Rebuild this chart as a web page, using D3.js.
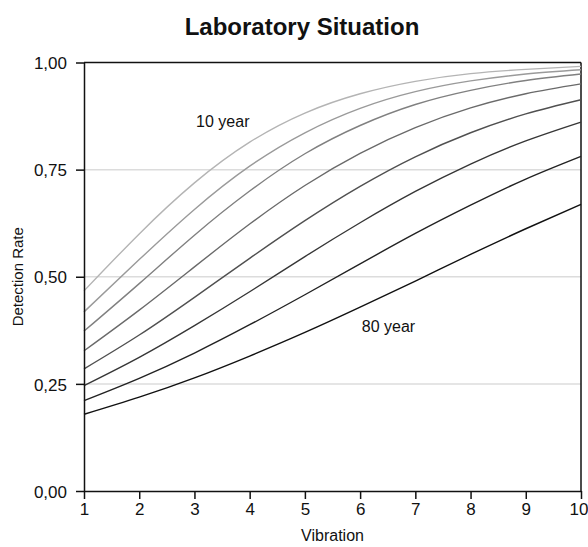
<!DOCTYPE html>
<html>
<head>
<meta charset="utf-8">
<script src="https://cdn.jsdelivr.net/npm/d3@7"></script>
<style>
  body { margin: 0; background: #fff; }
  svg { display: block; font-family: "Liberation Sans", Arial, sans-serif; }
</style>
</head>
<body>
<svg id="chart" width="588" height="547"></svg>
<script>
// vibration levels on the x axis
const vibration = [1, 2, 3, 4, 5, 6, 7, 8, 9, 10]

const ageGroups = ['10 year', '20 year', '30 year', '40 year', '50 year', '60 year', '70 year', '80 year']
const rate10 = [0.467, 0.600, 0.719, 0.814, 0.882, 0.927, 0.956, 0.974, 0.984, 0.991]
const rate20 = [0.418, 0.540, 0.657, 0.758, 0.836, 0.893, 0.932, 0.957, 0.973, 0.983]
const rate30 = [0.373, 0.484, 0.597, 0.700, 0.787, 0.853, 0.902, 0.935, 0.958, 0.973]
const rate40 = [0.327, 0.422, 0.523, 0.623, 0.713, 0.788, 0.848, 0.894, 0.927, 0.950]
const rate50 = [0.285, 0.364, 0.452, 0.543, 0.631, 0.711, 0.780, 0.836, 0.880, 0.913]
const rate60 = [0.246, 0.312, 0.386, 0.465, 0.547, 0.626, 0.699, 0.763, 0.817, 0.861]
const rate70 = [0.211, 0.263, 0.322, 0.388, 0.458, 0.530, 0.601, 0.667, 0.728, 0.781]
const rate80 = [0.179, 0.219, 0.264, 0.315, 0.370, 0.429, 0.490, 0.552, 0.612, 0.669]
const yTicks = [0, 0.25, 0.5, 0.75, 1]

const rates = [rate10, rate20, rate30, rate40, rate50, rate60, rate70, rate80]
const lineColors = ['#b4b4b4', '#9a9a9a', '#808080', '#6a6a6a', '#505050', '#363636', '#222222', '#111111']

const svg = d3.select('#chart')
const width = 588, height = 547
const margin = { top: 62.5, right: 7, bottom: 56, left: 84 }

const x = d3.scaleLinear().domain([1, 10]).range([margin.left, width - margin.right])
const y = d3.scaleLinear().domain([0, 1]).range([height - margin.bottom, margin.top])

const fmt = d => d.toFixed(2).replace('.', ',')

// grid lines
svg.append('g')
    .selectAll('line')
    .data(yTicks.filter(t => t > 0 && t < 1))
    .enter()
    .append('line')
    .attr('x1', x(1))
    .attr('x2', x(10))
    .attr('y1', d => y(d))
    .attr('y2', d => y(d))
    .attr('stroke', '#dcdcdc')
    .attr('stroke-width', 1.5)

// frame top and right
svg.append('line')
    .attr('x1', x(1)).attr('x2', x(10))
    .attr('y1', y(1)).attr('y2', y(1))
    .attr('stroke', '#111').attr('stroke-width', 1.5)
svg.append('line')
    .attr('x1', x(10)).attr('x2', x(10))
    .attr('y1', y(1)).attr('y2', y(0))
    .attr('stroke', '#111').attr('stroke-width', 1.5)

// curves
const line = d3.line()
    .x((d, i) => x(vibration[i]))
    .y(d => y(d))
    .curve(d3.curveNatural)

svg.append('g')
    .selectAll('path')
    .data(rates)
    .enter()
    .append('path')
    .attr('d', line)
    .attr('fill', 'none')
    .attr('stroke', (d, i) => lineColors[i])
    .attr('stroke-width', 1.4)

// axes
const xAxis = svg.append('g')
    .attr('transform', `translate(0,${y(0)})`)
    .call(d3.axisBottom(x).tickValues(vibration).tickSize(8).tickSizeOuter(0).tickPadding(4))
const yAxis = svg.append('g')
    .attr('transform', `translate(${x(1)},0)`)
    .call(d3.axisLeft(y).tickValues(yTicks).tickFormat(fmt).tickSize(8).tickSizeOuter(0).tickPadding(9))

for (let axis of [xAxis, yAxis]) {
    axis.select('.domain').attr('stroke', '#111').attr('stroke-width', 1.5)
    axis.selectAll('.tick line').attr('stroke', '#111').attr('stroke-width', 1.5)
    axis.selectAll('.tick text')
        .attr('fill', '#111')
        .style('font-size', '17px')
        .style('font-family', '"Liberation Sans", Arial, sans-serif')
}
yAxis.selectAll('.tick text').attr('dy', '0.36em')
// keep the last x label inside the picture
xAxis.selectAll('.tick text')
    .filter(d => d === 10)
    .attr('text-anchor', 'end')
    .attr('x', 7)

// series labels
svg.append('text')
    .attr('x', x(3.03))
    .attr('y', 127)
    .attr('fill', '#111')
    .style('font-size', '16px')
    .text(ageGroups[0])
svg.append('text')
    .attr('x', x(6.03))
    .attr('y', 332)
    .attr('fill', '#111')
    .style('font-size', '16px')
    .text(ageGroups[ageGroups.length - 1])

// title and axis titles
svg.append('text')
    .attr('x', 302)
    .attr('y', 35)
    .attr('text-anchor', 'middle')
    .attr('fill', '#111')
    .style('font-size', '24px')
    .style('font-weight', 'bold')
    .text('Laboratory Situation')

svg.append('text')
    .attr('x', (x(1) + x(10)) / 2)
    .attr('y', 541)
    .attr('text-anchor', 'middle')
    .attr('fill', '#111')
    .style('font-size', '16px')
    .text('Vibration')

svg.append('text')
    .attr('transform', `translate(23,${(y(0) + y(1)) / 2}) rotate(-90)`)
    .attr('text-anchor', 'middle')
    .attr('fill', '#111')
    .style('font-size', '15px')
    .text('Detection Rate')
</script>
</body>
</html>
